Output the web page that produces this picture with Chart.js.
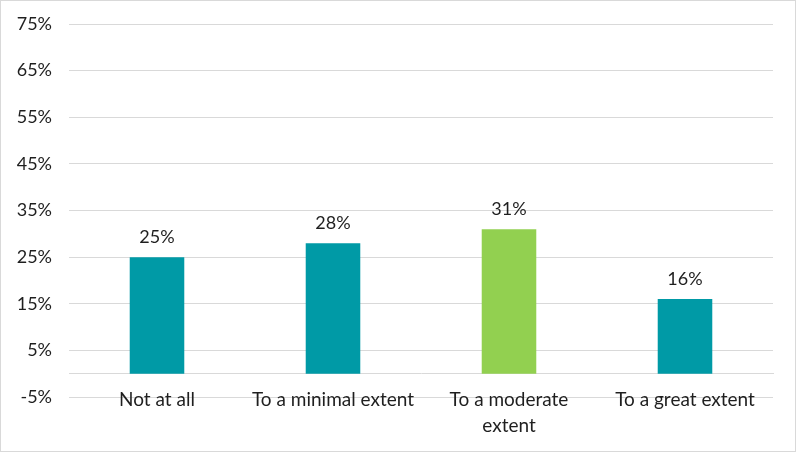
<!DOCTYPE html>
<html>
<head>
<meta charset="utf-8">
<script src="https://cdn.jsdelivr.net/npm/chart.js@4.4.0/dist/chart.umd.min.js"></script>
<style>
  html, body { margin: 0; padding: 0; background: #fff; }
  #wrap { width: 796px; height: 452px; box-sizing: border-box; border: 1px solid #D9D9D9; position: relative; }
  canvas { display: block; }
</style>
</head>
<body>
<div id="wrap"><canvas id="c" width="794" height="450"></canvas></div>
<script>
const categories = ["Not at all", "To a minimal extent", ["To a moderate", "extent"], "To a great extent"];
const values = [25, 28, 31, 16];
const barColors = ["#009AA6", "#009AA6", "#92D050", "#009AA6"];
const yMin = -5, yMax = 75, yStep = 10;

const FONT = "Lato";
const TEXT = "#1F1F1F";

const dataLabels = {
  id: "dataLabels",
  afterDatasetsDraw(chart) {
    const ctx = chart.ctx;
    const meta = chart.getDatasetMeta(0);
    ctx.save();
    ctx.font = "18px " + FONT;
    ctx.fillStyle = TEXT;
    ctx.textAlign = "center";
    ctx.textBaseline = "middle";
    meta.data.forEach((bar, i) => {
      ctx.fillText(values[i] + "%", bar.x, bar.y - 20);
    });
    ctx.restore();
  }
};

new Chart(document.getElementById("c"), {
  type: "bar",
  data: {
    labels: categories,
    datasets: [{
      data: values,
      backgroundColor: barColors,
      borderWidth: 0,
      categoryPercentage: 1,
      barPercentage: 0.31
    }]
  },
  options: {
    responsive: false,
    animation: false,
    devicePixelRatio: 1,
    layout: { padding: { left: 0, top: 23, right: 22, bottom: 54 } },
    plugins: { legend: { display: false }, tooltip: { enabled: false } },
    scales: {
      x: {
        position: { y: 0 },
        afterFit(scale) { scale.paddingTop = 0; scale.paddingBottom = 0; },
        grid: { display: false, drawTicks: false },
        border: { display: true, color: "#D9D9D9", width: 1 },
        ticks: {
          color: TEXT,
          font: { family: FONT, size: 19, lineHeight: 1.37 },
          padding: 13,
          maxRotation: 0,
          autoSkip: false
        }
      },
      y: {
        min: yMin,
        max: yMax,
        afterFit(scale) { scale.width = 68; scale.paddingTop = 0; scale.paddingBottom = 0; },
        grid: { color: "#D9D9D9", lineWidth: 1, drawTicks: false },
        border: { display: false },
        ticks: {
          stepSize: yStep,
          color: TEXT,
          font: { family: FONT, size: 18 },
          padding: 17,
          callback: v => v + "%"
        }
      }
    }
  },
  plugins: [dataLabels]
});
</script>
</body>
</html>
